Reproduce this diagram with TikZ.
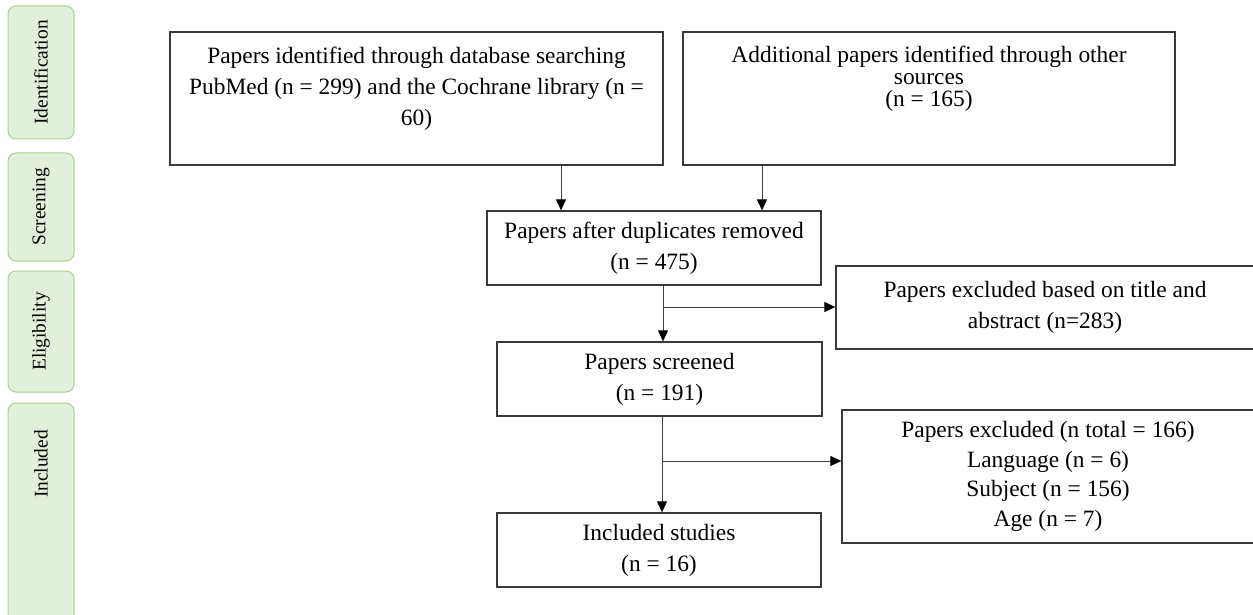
\documentclass[tikz,border=0pt]{standalone}
\usepackage{fontspec}
\setmainfont{Liberation Serif}
\usetikzlibrary{arrows.meta}
\definecolor{sidefill}{HTML}{E2EFDA}
\definecolor{sidedraw}{HTML}{A9D18E}
\definecolor{boxdraw}{HTML}{3A3A3A}
\definecolor{arrdraw}{HTML}{404040}
\begin{document}
\begin{tikzpicture}[x=0.5pt,y=-0.5pt,
  box/.style={draw=boxdraw,line width=0.65pt,inner sep=0pt},
  side/.style={draw=sidedraw,fill=sidefill,line width=0.5pt,rounded corners=4pt,inner sep=0pt,minimum height=33pt,rotate=90},
  txt/.style={align=center,font=\fontsize{11.7}{15.5}\selectfont,inner sep=0pt,text=black},
  stxt/.style={font=\fontsize{9.7}{12}\selectfont,inner sep=0pt,text=black},
  arr/.style={draw=arrdraw,line width=0.5pt,-{Triangle[length=5.5pt,width=5pt,color=black]}}]
\useasboundingbox (0,0) rectangle (1253,615);
\clip (0,0) rectangle (1253,615);

% side phase boxes
\node[side,stxt,minimum width=66.5pt] (sid) at (41,72.5) {Identification};
\node[side,stxt,minimum width=54pt] (sscr) at (41,207) {Screening};
\node[side,stxt,minimum width=60.5pt] (selg) at (41,331.5) {Eligibility};
\node[side,minimum width=118.5pt] (sinc) at (41,521.5) {};
\node[stxt,rotate=90] (sinct) at (41,464) {Included};

% main boxes
\node[box,minimum width=246.5pt,minimum height=66.5pt] (b1) at (416.5,98.5) {};
\node[txt] (b1t) at (416.5,89) {Papers identified through database searching\\PubMed (n = 299) and the Cochrane library (n =\\60)};
\node[box,minimum width=246pt,minimum height=66.5pt] (b2) at (929,98.5) {};
\node[txt,font=\fontsize{11.7}{11}\selectfont] (b2t) at (929,79) {Additional papers identified through other\\sources\\(n = 165)};

\node[box,txt,minimum width=167pt,minimum height=37pt] (dup) at (654,248) {Papers after duplicates removed\\(n = 475)};
\node[box,txt,minimum width=162.5pt,minimum height=37pt] (scr) at (659.5,379) {Papers screened\\(n = 191)};
\node[box,txt,minimum width=162pt,minimum height=37pt] (inc) at (659,550) {Included studies\\(n = 16)};
\node[box,txt,minimum width=209pt,minimum height=41.5pt] (ex1) at (1045,307.5) {Papers excluded based on title and\\abstract (n=283)};
\node[box,txt,font=\fontsize{11.7}{14.8}\selectfont,minimum width=206pt,minimum height=66.5pt] (ex2) at (1048,476.5) {Papers excluded (n total = 166)\\Language (n = 6)\\Subject (n = 156)\\Age (n = 7)};

% connectors
\coordinate (c1) at (561,0);
\coordinate (c2) at (762,0);
\coordinate (c3) at (663,0);
\coordinate (c4) at (662,0);
\coordinate (j1) at (663,307);
\coordinate (j2) at (662,461);
\draw[arr] (b1.south -| c1) -- (dup.north -| c1);
\draw[arr] (b2.south -| c2) -- (dup.north -| c2);
\draw[arr] (dup.south -| c3) -- (scr.north -| c3);
\draw[arr] (j1) -- (j1 -| ex1.west);
\draw[arr] (scr.south -| c4) -- (inc.north -| c4);
\draw[arr] (j2) -- (j2 -| ex2.west);
\end{tikzpicture}
\end{document}
